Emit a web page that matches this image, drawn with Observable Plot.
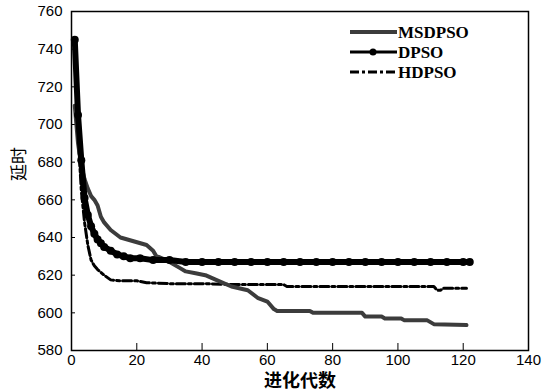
<!DOCTYPE html>
<html><head><meta charset="utf-8">
<script src="https://cdn.jsdelivr.net/npm/d3@7"></script>
<script src="https://cdn.jsdelivr.net/npm/@observablehq/plot@0.6"></script>
<style>
body{margin:0;background:#fff;}
#wrap{position:relative;width:547px;height:391px;}
#wrap svg{position:absolute;left:0;top:0;}
</style></head>
<body><div id="wrap"></div>
<script>
const seriesNames = ["MSDPSO", "DPSO", "HDPSO"];
const xTicks = [0, 20, 40, 60, 80, 100, 120, 140];
const yTicks = [580, 600, 620, 640, 660, 680, 700, 720, 740, 760];
const xTitle = "进化代数";
const yTitle = "延时";

const msdpsoGen = [1,2,3,4,5,6,7,8,9,10,12,15,19,23,25,26,27,29,31,33,35,38,41,45,49,54,57,60,62,63,73,74,89,90,95,96,101,102,109,111,121];
const msdpsoVal = [710,690,678,671,666,662,660,657,651,648,644,640,638,636,633,630,629.5,628,626,624,622,621,620,617,614,612,608,606,602,601,601,600,600,598,598,597,597,596,596,594,593.5];

const dpsoGen = [1,2,3,4,5,6,7,8,9,10,12,14,16,18,21,25,30,35,40,45,50,55,60,65,70,75,80,85,90,95,100,105,110,115,120,122];
const dpsoVal = [745,705,681,661,652,646,642,639,637,635,633,631,630,629,629,628,628,627,627,627,627,627,627,627,627,627,627,627,627,627,627,627,627,627,627,627];

const hdpsoGen = [1,2,3,4,5,6,7,8,10,12,15,20,23,30,40,50,60,65,66,80,100,111,112,113,114,121];
const hdpsoVal = [740,695,665,648,636,628,625,623,620,617.5,617,617,616,615.5,615.5,615,615,615,614,614,614,614,612,612,613,613];

const toRows = (name, g, v) => g.map((x, i) => ({series: name, gen: x, val: v[i]}));
const msdpso = toRows(seriesNames[0], msdpsoGen, msdpsoVal);
const dpso = toRows(seriesNames[1], dpsoGen, dpsoVal);
const hdpso = toRows(seriesNames[2], hdpsoGen, hdpsoVal);

const dash = "9,3,3,3";
const chart = Plot.plot({
  width: 547, height: 391,
  marginLeft: 71, marginRight: 19, marginTop: 11, marginBottom: 41,
  style: {fontFamily: "'Liberation Sans', Arial, sans-serif", fontSize: "15px", color: "#000", background: "transparent"},
  x: {domain: [0, 140]},
  y: {domain: [580, 760]},
  marks: [
    Plot.frame({stroke: "#000", strokeWidth: 1.5}),
    Plot.axisX({ticks: xTicks, tickSize: -7, tickPadding: 11, label: null, fontSize: 15}),
    Plot.axisY({ticks: yTicks, tickSize: -4, tickPadding: 13, label: null, fontSize: 15}),
    Plot.line(hdpso, {x: "gen", y: "val", stroke: "#000", strokeWidth: 3, strokeDasharray: dash}),
    Plot.line(msdpso, {x: "gen", y: "val", stroke: "#3c3c3c", strokeWidth: 4}),
    Plot.line(dpso, {x: "gen", y: "val", stroke: "#000", strokeWidth: 6}),
    Plot.dot(dpso, {x: "gen", y: "val", fill: "#000", r: 4}),
    Plot.text([xTitle], {frameAnchor: "bottom", lineAnchor: "middle", dy: 31, fontSize: 18, fontWeight: 600, fontFamily: "'Noto Sans CJK SC', sans-serif", fill: "#000"}),
    Plot.text([yTitle], {frameAnchor: "left", dx: -52, rotate: -90, fontSize: 17, fontFamily: "'Noto Sans CJK SC', sans-serif", fill: "#000"})
  ]
});
document.getElementById("wrap").appendChild(chart);

// legend overlay
const leg = d3.select("#wrap").append("svg").attr("width", 547).attr("height", 391);
const items = [
  {name: seriesNames[0], stroke: "#3c3c3c", w: 4, dash: null, dot: false},
  {name: seriesNames[1], stroke: "#000", w: 3, dash: null, dot: true},
  {name: seriesNames[2], stroke: "#000", w: 3, dash: dash, dot: false}
];
items.forEach((d, i) => {
  const y = 32 + i * 20;
  const g = leg.append("g");
  g.append("line").attr("x1", 350).attr("x2", 397).attr("y1", y).attr("y2", y)
    .attr("stroke", d.stroke).attr("stroke-width", d.w).attr("stroke-dasharray", d.dash);
  if (d.dot) g.append("circle").attr("cx", 373).attr("cy", y).attr("r", 3.5).attr("fill", "#000");
  g.append("text").attr("x", 398).attr("y", y).attr("dy", "0.36em")
    .attr("font-family", "'Liberation Serif', 'Times New Roman', serif").attr("font-size", 17)
    .attr("font-weight", "bold").text(d.name);
});
</script></body></html>
